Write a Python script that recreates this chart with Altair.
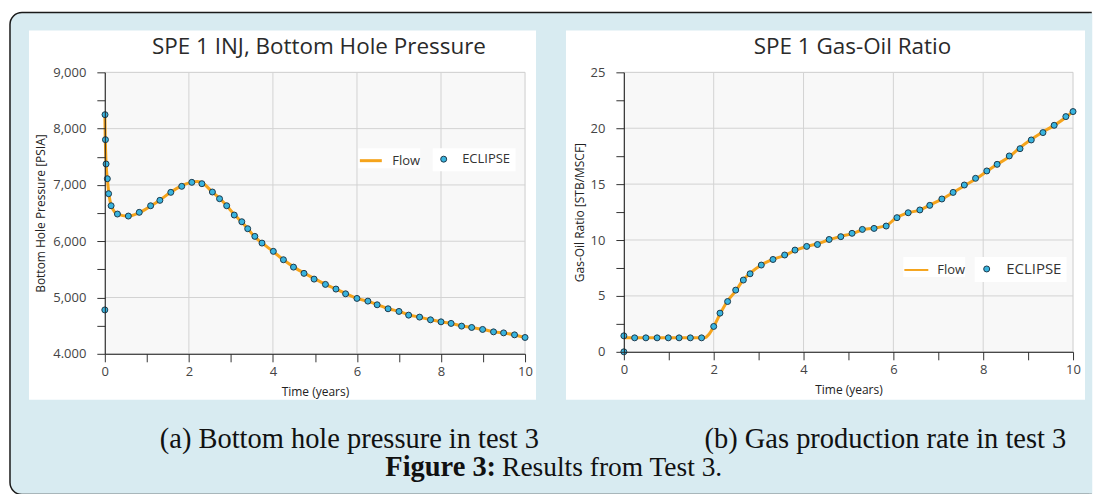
import altair as alt
import pandas as pd

# ---------------- data ----------------
# Left panel: SPE 1 INJ bottom hole pressure [PSIA] vs time (years)
bhp_ecl_t = [0.0, 0.005, 0.015, 0.03, 0.06, 0.09, 0.15, 0.30, 0.56, 0.82, 1.09, 1.31,
             1.57, 1.83, 2.07, 2.31, 2.56, 2.73, 2.90, 3.08, 3.26, 3.40, 3.57, 3.74,
             4.01, 4.25, 4.49, 4.74, 4.98, 5.25, 5.50, 5.73, 6.00, 6.26, 6.48, 6.74,
             7.00, 7.23, 7.49, 7.75, 8.00, 8.24, 8.49, 8.73, 8.99, 9.25, 9.49, 9.75, 10.0]
bhp_ecl_p = [4780, 8248, 7804, 7372, 7110, 6844, 6630, 6483, 6447, 6513, 6630, 6726,
             6868, 6975, 7046, 7022, 6874, 6755, 6630, 6465, 6346, 6222, 6086, 5967,
             5820, 5671, 5540, 5429, 5327, 5233, 5150, 5066, 4984, 4936, 4871, 4800,
             4753, 4687, 4652, 4604, 4568, 4540, 4492, 4468, 4433, 4390, 4372, 4337, 4290]
bhp_flow_t = [0.0, 0.01, 0.03, 0.06, 0.1, 0.16, 0.3, 0.55, 0.8, 1.1, 1.3, 1.55, 1.8,
              2.05, 2.2, 2.35, 2.55, 2.75, 2.9, 3.1, 3.25, 3.4, 3.55, 3.75, 4.0, 4.25,
              4.5, 4.75, 5.0, 5.25, 5.5, 5.75, 6.0, 6.25, 6.5, 6.75, 7.0, 7.25, 7.5,
              7.75, 8.0, 8.25, 8.5, 8.75, 9.0, 9.25, 9.5, 9.75, 10.0]
bhp_flow_p = [8260, 7850, 7380, 7110, 6820, 6620, 6480, 6445, 6500, 6630, 6725, 6860,
              6975, 7045, 7060, 7020, 6880, 6750, 6630, 6460, 6345, 6225, 6090, 5965,
              5820, 5670, 5540, 5430, 5330, 5235, 5150, 5065, 4985, 4935, 4870, 4800,
              4755, 4690, 4650, 4605, 4570, 4540, 4495, 4465, 4435, 4390, 4370, 4335, 4290]

# Right panel: SPE 1 gas-oil ratio [STB/MSCF] vs time (years)
gor_ecl_t = [0.0, 0.0, 0.24, 0.49, 0.74, 0.99, 1.23, 1.48, 1.73, 2.0, 2.14, 2.31, 2.49,
             2.66, 2.81, 3.06, 3.32, 3.58, 3.81, 4.07, 4.31, 4.57, 4.83, 5.08, 5.31,
             5.57, 5.84, 6.08, 6.33, 6.59, 6.81, 7.08, 7.33, 7.58, 7.83, 8.08, 8.31,
             8.58, 8.82, 9.07, 9.33, 9.58, 9.84, 10.0]
gor_ecl_g = [0.0, 1.43, 1.25, 1.25, 1.25, 1.25, 1.25, 1.25, 1.25, 2.27, 3.46, 4.5, 5.52,
             6.42, 6.98, 7.76, 8.26, 8.66, 9.1, 9.43, 9.6, 10.05, 10.3, 10.6, 10.95,
             11.04, 11.25, 12.0, 12.44, 12.69, 13.1, 13.67, 14.26, 14.92, 15.52, 16.18,
             16.77, 17.52, 18.17, 18.95, 19.61, 20.26, 21.04, 21.49]
gor_flow_t = [0.0, 0.5, 1.0, 1.5, 1.8, 1.9, 2.0, 2.15, 2.3, 2.5, 2.65, 2.8, 3.05, 3.3,
              3.6, 3.8, 4.05, 4.3, 4.55, 4.8, 5.1, 5.3, 5.55, 5.85, 6.05, 6.3, 6.6,
              6.8, 7.1, 7.35, 7.6, 7.85, 8.1, 8.3, 8.6, 8.8, 9.05, 9.3, 9.6, 9.85, 10.0]
gor_flow_g = [1.25, 1.25, 1.25, 1.25, 1.27, 1.6, 2.25, 3.45, 4.5, 5.5, 6.4, 7.0, 7.75,
              8.25, 8.65, 9.05, 9.4, 9.65, 10.0, 10.3, 10.6, 10.9, 11.05, 11.3, 11.95,
              12.4, 12.7, 13.1, 13.7, 14.3, 14.9, 15.5, 16.2, 16.75, 17.5, 18.2, 18.95,
              19.6, 20.3, 21.0, 21.5]

x_ticks = [0, 1, 2, 3, 4, 5, 6, 7, 8, 9, 10]
x_grid = [2, 4, 6, 8]
bhp_ticks = [4000, 4500, 5000, 5500, 6000, 6500, 7000, 7500, 8000, 8500, 9000]
bhp_grid = [5000, 6000, 7000, 8000]
gor_ticks = [0, 2.5, 5, 7.5, 10, 12.5, 15, 17.5, 20, 22.5, 25]
gor_grid = [5, 10, 15, 20]

titles = ["SPE 1 INJ, Bottom Hole Pressure", "SPE 1 Gas-Oil Ratio"]
x_title = "Time (years)"
y_titles = ["Bottom Hole Pressure [PSIA]", "Gas-Oil Ratio [STB/MSCF]"]
series_names = ["Flow", "ECLIPSE"]
captions = ["(a) Bottom hole pressure in test 3", "(b) Gas production rate in test 3"]
fig_bold = "Figure 3:"
fig_rest = "Results from Test 3."

# ---------------- style ----------------
ORANGE = "#f5a41c"
BLUE = "#39b4de"
PT_STROKE = "#1d3a4c"
PANEL = "#d8ebf1"
FONT = "Open Sans"
SERIF = "Liberation Serif"
GRID = "#d3d3d3"
CAP_SIZE = 28.5

W1, H1 = 421, 282
W2, H2 = 450, 280


def one():
    return pd.DataFrame({"k": [0]})


def rect(x, x2, y, y2, **kw):
    return alt.Chart(one()).mark_rect(**kw).encode(
        x=alt.value(x), x2=alt.value(x2), y=alt.value(y), y2=alt.value(y2))


def text(s, x, y, **kw):
    return alt.Chart(one()).mark_text(text=s, **kw).encode(x=alt.value(x), y=alt.value(y))


axis_common = dict(grid=False, domainColor="#222222", domainWidth=1, tickColor="#333333",
                   tickSize=8, tickWidth=1, labelFont=FONT, labelFontSize=13,
                   labelColor="#444444", titleFont=FONT, titleFontSize=12,
                   titleFontWeight="normal", titleColor="#222222", zindex=1,
                   labelFlush=False, labelOverlap=False)


def x_enc():
    return alt.X("t:Q", scale=alt.Scale(domain=[0, 10], nice=False, zero=False),
                 axis=alt.Axis(values=x_ticks, title=x_title, labelPadding=4, titlePadding=8,
                               labelExpr="datum.value % 2 === 0 ? datum.label : ''",
                               **axis_common))


def legends(lx_flow, lx_ecl, ly, flow_len, flow_width, flow_off, ecl_off, ecl_font):
    flow_leg = alt.Legend(orient="none", legendX=lx_flow, legendY=ly, title=None,
                          symbolType="stroke", symbolSize=flow_len * flow_len,
                          symbolStrokeWidth=flow_width, labelOffset=flow_off, padding=0,
                          fillColor="white", labelFont=FONT, labelFontSize=13,
                          labelColor="#333333",
                          labelExpr="datum.label + '\u00a0\u00a0\u00a0\u00a0'")
    ecl_pad = (flow_len - ecl_font) / 2
    ecl_leg = alt.Legend(orient="none", legendX=lx_ecl - ecl_pad, legendY=ly, title=None,
                         symbolType="circle", symbolSize=36, symbolStrokeColor=PT_STROKE,
                         symbolStrokeWidth=1, labelOffset=ecl_off, padding=ecl_pad,
                         fillColor="white", labelFont=FONT, labelFontSize=ecl_font,
                         labelColor="#333333")
    return flow_leg, ecl_leg


def panel_chart(flow_t, flow_v, ecl_t, ecl_v, ydomain, yticks, ygrid, ylabel_expr,
                ytitle, ylabel_pad, ytitle_pad, title, W, H, box, leg, extra_layers,
                front_layers):
    flow_df = pd.DataFrame({"t": flow_t, "v": flow_v, "series": series_names[0]})
    ecl_df = pd.DataFrame({"t": ecl_t, "v": ecl_v, "series": series_names[1]})
    y = alt.Y("v:Q", scale=alt.Scale(domain=ydomain, nice=False, zero=False),
              axis=alt.Axis(values=yticks, title=ytitle, labelPadding=ylabel_pad,
                            titlePadding=ytitle_pad, labelExpr=ylabel_expr, **axis_common))
    flow_leg, ecl_leg = leg
    layers = list(extra_layers)
    layers.append(rect(box[0], box[1], box[2], box[3], fill="white"))
    layers.append(rect(0, W, 0, H, fill="#f8f8f8", stroke="#cdcdcd", strokeWidth=1))
    layers.append(alt.Chart(pd.DataFrame({"t": x_grid})).mark_rule(
        color=GRID, strokeWidth=1).encode(x=x_enc()))
    layers.append(alt.Chart(pd.DataFrame({"v": ygrid})).mark_rule(
        color=GRID, strokeWidth=1).encode(y=y))
    layers.append(alt.Chart(flow_df).mark_line(strokeWidth=3, interpolate="monotone").encode(
        x=x_enc(), y=y,
        stroke=alt.Stroke("series:N", scale=alt.Scale(domain=[series_names[0]], range=[ORANGE]),
                          legend=flow_leg)))
    layers.append(alt.Chart(ecl_df).mark_point(shape="circle", filled=True, size=36,
                                               stroke=PT_STROKE, strokeWidth=1, opacity=1).encode(
        x=x_enc(), y=y,
        fill=alt.Fill("series:N", scale=alt.Scale(domain=[series_names[1]], range=[BLUE]),
                      legend=ecl_leg)))
    layers.append(text(title, W / 2 + 4, -25, font=FONT, fontSize=22.5, color="#2a2a2a",
                       align="center", baseline="middle"))
    layers.extend(front_layers)
    return alt.layer(*layers).properties(width=W, height=H)


bhp_label_expr = ("datum.value % 1000 === 0 ? (datum.value === 4000 ? '4.000' : "
                  "format(datum.value, ',')) : ''")
gor_label_expr = "datum.value % 5 === 0 ? datum.label : ''"

PANEL_R = 988  # right end of the blue panel (relative to the left plot)
left = panel_chart(
    bhp_flow_t, bhp_flow_p, bhp_ecl_t, bhp_ecl_p, [4000, 9000], bhp_ticks, bhp_grid,
    bhp_label_expr, y_titles[0], 11, 5, titles[0], W1, H1,
    box=(-76, 432, -42, 328),
    leg=legends(254, 333, 76, 22, 3, 9, 12, 13),
    extra_layers=[
        rect(-95, PANEL_R, -60, 423, fill=PANEL, stroke="#1a1a1a", strokeWidth=1.5,
             cornerRadiusTopLeft=12, cornerRadiusBottomLeft=12),
        alt.Chart(one()).mark_rule(color=PANEL, strokeWidth=2.5).encode(
            x=alt.value(PANEL_R), y=alt.value(-59.2), y2=alt.value(422.2)),
    ],
    front_layers=[
        text(captions[0], 245, 376, font=SERIF, fontSize=CAP_SIZE, color="#111111",
             align="center", baseline="alphabetic"),
        text(fig_bold, 392, 404, font=SERIF, fontSize=CAP_SIZE, fontWeight="bold",
             color="#111111", align="right", baseline="alphabetic"),
        text(fig_rest, 398, 404, font=SERIF, fontSize=27.5, color="#111111",
             align="left", baseline="alphabetic"),
    ])

right = panel_chart(
    gor_flow_t, gor_flow_g, gor_ecl_t, gor_ecl_g, [0, 25], gor_ticks, gor_grid,
    gor_label_expr, y_titles[1], 11, 4, titles[1], W2, H2,
    box=(-58, 462, -42, 328),
    leg=legends(280, 356, 185, 24, 2, 8, 12, 15),
    extra_layers=[],
    front_layers=[
        text(captions[1], 262, 376, font=SERIF, fontSize=CAP_SIZE, color="#111111",
             align="center", baseline="alphabetic"),
    ])

chart = (
    alt.hconcat(left, right, spacing=99, bounds="flush")
    .resolve_scale(stroke="independent", fill="independent")
    .resolve_legend(stroke="independent", fill="independent")
    .properties(padding={"left": 0, "top": 2, "right": 0, "bottom": 0}, background="white")
    .configure_view(stroke="transparent")
)

chart.save("out.html", embed_options={"renderer": "svg", "actions": False})
